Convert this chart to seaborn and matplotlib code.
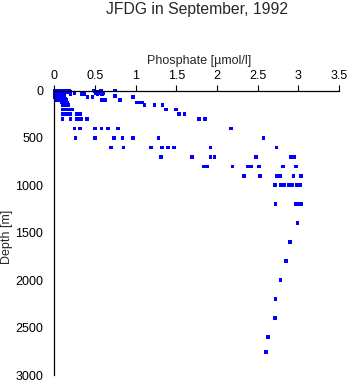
import matplotlib
matplotlib.use("Agg")
import matplotlib.pyplot as plt
import seaborn as sns
import pandas as pd

# ---- data ----
depth_m = (
    [0]*11 + [10]*9 + [20]*8 + [25] + [30]*7 + [40]*9 + [50]*4 + [60]*3 +
    [70]*7 + [75]*3 + [90]*4 + [100]*8 + [125]*6 + [150]*6 + [200]*6 +
    [250]*8 + [300]*8 +
    [400]*7 + [500]*7 + [600]*8 + [700]*7 + [800]*8 + [900]*6 + [1000]*7 +
    [1200]*4 + [1400, 1600, 1800, 2000, 2200, 2400, 2600, 2760]
)
phosphate = [
    # 0 m
    0.01, 0.03, 0.05, 0.07, 0.09, 0.11, 0.15, 0.18, 0.48, 0.57, 0.75,
    # 10 m
    0.02, 0.04, 0.06, 0.08, 0.10, 0.14, 0.20, 0.50, 0.53,
    # 20 m
    0.01, 0.03, 0.05, 0.08, 0.11, 0.16, 0.52, 0.58,
    # 25 m
    0.51,
    # 30 m
    0.02, 0.04, 0.06, 0.09, 0.25, 0.55, 0.60,
    # 40 m
    0.01, 0.03, 0.07, 0.10, 0.20, 0.34, 0.37, 0.53, 0.59,
    # 50 m
    0.02, 0.05, 0.08, 0.12,
    # 60 m
    0.03, 0.06, 0.75,
    # 70 m
    0.01, 0.04, 0.07, 0.09, 0.41, 0.47, 0.97,
    # 75 m
    0.02, 0.08, 0.11,
    # 90 m
    0.04, 0.06, 0.10, 0.13,
    # 100 m
    0.02, 0.07, 0.12, 0.15, 0.58, 0.61, 0.63, 0.81,
    # 125 m
    0.09, 0.12, 0.16, 1.02, 1.05, 1.08,
    # 150 m
    0.11, 0.14, 0.17, 1.11, 1.23, 1.33,
    # 200 m
    0.10, 0.14, 0.18, 0.22, 1.37, 1.50,
    # 250 m
    0.10, 0.13, 0.17, 0.20, 0.28, 0.32, 1.53, 1.60,
    # 300 m
    0.10, 0.20, 0.28, 0.30, 0.33, 0.40, 1.78, 1.85,
    # 400 m
    0.25, 0.32, 0.50, 0.58, 0.66, 0.78, 2.17,
    # 500 m
    0.26, 0.50, 0.73, 0.84, 0.97, 1.28, 2.57,
    # 600 m
    0.70, 0.85, 1.19, 1.32, 1.40, 1.47, 1.92, 2.73,
    # 700 m
    1.31, 1.69, 1.92, 1.97, 2.48, 2.91, 2.95,
    # 800 m
    1.84, 1.88, 2.19, 2.38, 2.42, 2.52, 2.81, 2.97,
    # 900 m
    2.33, 2.53, 2.74, 2.78, 2.94, 3.03,
    # 1000 m
    2.71, 2.78, 2.82, 2.88, 2.92, 2.98, 3.02,
    # 1200 m
    2.72, 2.97, 3.00, 3.04,
    # deep
    2.99, 2.90, 2.85, 2.78, 2.72, 2.71, 2.63, 2.60,
]
x_ticks = [0, 0.5, 1, 1.5, 2, 2.5, 3, 3.5]
x_tick_labels = ["0", "0.5", "1", "1.5", "2", "2.5", "3", "3.5"]
y_ticks = [0, 500, 1000, 1500, 2000, 2500, 3000]
title = "JFDG in September, 1992"
x_label = "Phosphate [\u00b5mol/l]"
y_label = "Depth [m]"

df = pd.DataFrame({"phosphate": phosphate, "depth": depth_m})

sns.set_style("white")
plt.rcParams["font.family"] = ["Liberation Sans", "DejaVu Sans"]

W, H = 350, 384
fig = plt.figure(figsize=(W / 100, H / 100), dpi=100)
x0, x1 = 54.3, 339.0
y0, y1 = 90.5, 375.0
ax = fig.add_axes([x0 / W, 1 - y1 / H, (x1 - x0) / W, (y1 - y0) / H])

sns.scatterplot(data=df, x="phosphate", y="depth", ax=ax, marker="s",
                s=7, color="#0000ff", edgecolor="none", linewidth=0,
                legend=False, clip_on=False)

ax.set_xlim(0, 3.5)
ax.set_ylim(3000, 0)
ax.xaxis.set_ticks_position("top")
ax.xaxis.set_label_position("top")
ax.set_xticks(x_ticks)
ax.set_xticklabels(x_tick_labels)
ax.set_yticks(y_ticks)
ax.tick_params(axis="both", direction="out", length=4, width=0.8,
               color="black", labelsize=9, labelcolor="black")
ax.tick_params(axis="x", pad=2)
ax.tick_params(axis="y", pad=4)

for side in ["bottom", "right"]:
    ax.spines[side].set_visible(False)
for side in ["top", "left"]:
    ax.spines[side].set_color("black")
    ax.spines[side].set_linewidth(0.9)

ax.set_xlabel(x_label, fontsize=9, va="center")
ax.xaxis.set_label_coords((199.5 - x0) / (x1 - x0), (y1 - 61) / (y1 - y0))
ax.set_ylabel(y_label, fontsize=9, va="center")
ax.yaxis.set_label_coords((7 - x0) / (x1 - x0), 0.485)
ax.grid(False)

fig.text(197 / W, 1 - 9.5 / H, title, ha="center", va="center", fontsize=11.3)

fig.savefig("out.png", dpi=100, facecolor="white")
